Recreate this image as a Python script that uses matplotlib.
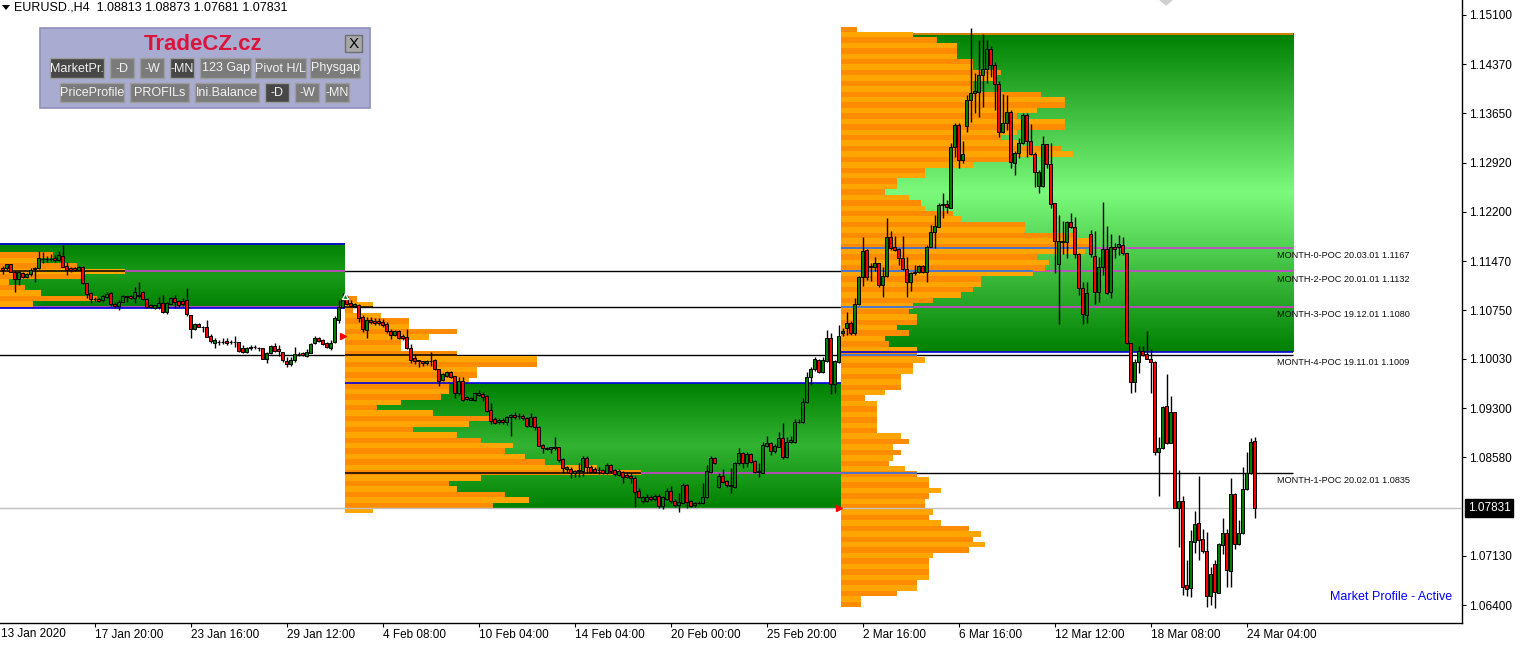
import matplotlib
matplotlib.use('Agg')
import matplotlib.pyplot as plt
from matplotlib.patches import Rectangle, Polygon
import numpy as np

plt.rcParams['font.family'] = ['Liberation Sans', 'DejaVu Sans']

# ---------------------------------------------------------------------------
# - data: EURUSD H4 candles (bar index 0 = first visible bar)
opens = [
    1.1137, 1.1137, 1.1143, 1.1131, 1.1121, 1.1130, 1.1124, 1.1128, 1.1135, 1.1137,
    1.1150, 1.1150, 1.1150, 1.1152, 1.1149, 1.1155, 1.1140, 1.1137, 1.1137, 1.1134,
    1.1138, 1.1115, 1.1100, 1.1091, 1.1091, 1.1090, 1.1094, 1.1100, 1.1084, 1.1081,
    1.1087, 1.1094, 1.1096, 1.1093, 1.1096, 1.1102, 1.1091, 1.1082, 1.1078, 1.1079,
    1.1085, 1.1072, 1.1084, 1.1093, 1.1088, 1.1088, 1.1090, 1.1068, 1.1047, 1.1054,
    1.1050, 1.1050, 1.1037, 1.1026, 1.1028, 1.1028, 1.1029, 1.1028, 1.1028, 1.1028,
    1.1019, 1.1013, 1.1020, 1.1020, 1.1019, 1.1019, 1.1003, 1.1012, 1.1022, 1.1018,
    1.1013, 1.1000, 1.0995, 1.1001, 1.1010, 1.1012, 1.1007, 1.1012, 1.1026, 1.1034,
    1.1031, 1.1026, 1.1019, 1.1028, 1.1060, 1.1079, 1.1094, 1.1085, 1.1081, 1.1082,
    1.1065, 1.1046, 1.1060, 1.1059, 1.1059, 1.1057, 1.1054, 1.1044, 1.1038, 1.1044,
    1.1037, 1.1035, 1.1019, 1.1004, 1.1001, 1.1000, 1.0997, 1.1000, 1.1001, 1.0988,
    1.0972, 1.0978, 1.0984, 1.0978, 1.0953, 1.0970, 1.0947, 1.0942, 1.0942, 1.0950,
    1.0951, 1.0948, 1.0928, 1.0914, 1.0910, 1.0913, 1.0910, 1.0917, 1.0920, 1.0919,
    1.0919, 1.0916, 1.0904, 1.0917, 1.0903, 1.0876, 1.0872, 1.0870, 1.0873, 1.0873,
    1.0855, 1.0841, 1.0841, 1.0835, 1.0838, 1.0838, 1.0857, 1.0844, 1.0841, 1.0839,
    1.0839, 1.0835, 1.0846, 1.0839, 1.0832, 1.0836, 1.0832, 1.0830, 1.0827, 1.0808,
    1.0793, 1.0793, 1.0799, 1.0796, 1.0801, 1.0786, 1.0796, 1.0808, 1.0793, 1.0787,
    1.0790, 1.0817, 1.0793, 1.0787, 1.0790, 1.0790, 1.0799, 1.0836, 1.0857, 1.0814,
    1.0830, 1.0823, 1.0817, 1.0814, 1.0849, 1.0864, 1.0849, 1.0863, 1.0852, 1.0836,
    1.0835, 1.0874, 1.0879, 1.0867, 1.0873, 1.0886, 1.0858, 1.0880, 1.0880, 1.0910,
    1.0910, 1.0939, 1.0976, 1.0988, 1.1001, 1.0984, 1.1000, 1.1034, 1.0966, 1.0998,
    1.1041, 1.1048, 1.1056, 1.1041, 1.1084, 1.1124, 1.1163, 1.1138, 1.1138, 1.1144,
    1.1112, 1.1125, 1.1183, 1.1168, 1.1165, 1.1152, 1.1135, 1.1116, 1.1131, 1.1131,
    1.1140, 1.1131, 1.1168, 1.1190, 1.1197, 1.1230, 1.1231, 1.1225, 1.1315, 1.1348,
    1.1296, 1.1346, 1.1385, 1.1395, 1.1396, 1.1422, 1.1430, 1.1460, 1.1436, 1.1408,
    1.1337, 1.1351, 1.1367, 1.1292, 1.1306, 1.1321, 1.1363, 1.1324, 1.1305, 1.1258,
    1.1258, 1.1320, 1.1290, 1.1233, 1.1143, 1.1177, 1.1175, 1.1205, 1.1197, 1.1158,
    1.1107, 1.1068, 1.1187, 1.1155, 1.1102, 1.1138, 1.1165, 1.1102, 1.1168, 1.1168,
    1.1171, 1.1159, 1.1026, 1.0969, 1.0998, 1.1015, 1.1010, 1.1003, 1.0998, 1.0866,
    1.0872, 1.0933, 1.0879, 1.0925, 1.0783, 1.0793, 1.0670, 1.0665, 1.0733, 1.0761,
    1.0737, 1.0720, 1.0653, 1.0701, 1.0658, 1.0729, 1.0746, 1.0690, 1.0804, 1.0730,
    1.0746, 1.0811, 1.0835, 1.08813]
highs = [
    1.1140, 1.1143, 1.1143, 1.1133, 1.1133, 1.1131, 1.1130, 1.1137, 1.1138, 1.1162,
    1.1161, 1.1155, 1.1158, 1.1156, 1.1162, 1.1171, 1.1146, 1.1138, 1.1138, 1.1140,
    1.1140, 1.1115, 1.1102, 1.1094, 1.1093, 1.1097, 1.1102, 1.1102, 1.1087, 1.1090,
    1.1097, 1.1096, 1.1097, 1.1109, 1.1116, 1.1103, 1.1093, 1.1084, 1.1082, 1.1094,
    1.1097, 1.1087, 1.1094, 1.1097, 1.1090, 1.1093, 1.1107, 1.1068, 1.1056, 1.1056,
    1.1051, 1.1060, 1.1040, 1.1034, 1.1031, 1.1034, 1.1034, 1.1031, 1.1037, 1.1028,
    1.1023, 1.1020, 1.1023, 1.1023, 1.1020, 1.1019, 1.1013, 1.1023, 1.1026, 1.1023,
    1.1013, 1.1006, 1.1006, 1.1020, 1.1013, 1.1013, 1.1018, 1.1026, 1.1037, 1.1035,
    1.1032, 1.1028, 1.1031, 1.1066, 1.1090, 1.1100, 1.1097, 1.1090, 1.1085, 1.1084,
    1.1068, 1.1065, 1.1065, 1.1063, 1.1063, 1.1062, 1.1057, 1.1047, 1.1046, 1.1046,
    1.1040, 1.1047, 1.1025, 1.1009, 1.1001, 1.1000, 1.1001, 1.1013, 1.1003, 1.0988,
    1.0982, 1.0985, 1.0985, 1.0978, 1.0976, 1.0976, 1.0948, 1.0947, 1.0954, 1.0957,
    1.0954, 1.0950, 1.0938, 1.0917, 1.0916, 1.0916, 1.0919, 1.0922, 1.0925, 1.0923,
    1.0922, 1.0917, 1.0923, 1.0919, 1.0904, 1.0877, 1.0873, 1.0873, 1.0888, 1.0873,
    1.0857, 1.0845, 1.0844, 1.0839, 1.0849, 1.0860, 1.0860, 1.0846, 1.0844, 1.0844,
    1.0841, 1.0849, 1.0848, 1.0841, 1.0841, 1.0838, 1.0836, 1.0835, 1.0830, 1.0813,
    1.0801, 1.0804, 1.0802, 1.0804, 1.0804, 1.0801, 1.0813, 1.0815, 1.0796, 1.0805,
    1.0820, 1.0818, 1.0795, 1.0792, 1.0793, 1.0820, 1.0846, 1.0860, 1.0858, 1.0835,
    1.0841, 1.0824, 1.0842, 1.0851, 1.0872, 1.0866, 1.0866, 1.0864, 1.0854, 1.0849,
    1.0880, 1.0889, 1.0880, 1.0877, 1.0895, 1.0908, 1.0888, 1.0889, 1.0914, 1.0914,
    1.0945, 1.0984, 1.0991, 1.1006, 1.1003, 1.1006, 1.1046, 1.1041, 1.1001, 1.1053,
    1.1048, 1.1072, 1.1059, 1.1093, 1.1125, 1.1183, 1.1165, 1.1144, 1.1153, 1.1144,
    1.1138, 1.1211, 1.1192, 1.1184, 1.1166, 1.1184, 1.1153, 1.1131, 1.1141, 1.1141,
    1.1141, 1.1171, 1.1200, 1.1215, 1.1233, 1.1248, 1.1237, 1.1321, 1.1351, 1.1351,
    1.1324, 1.1392, 1.1491, 1.1424, 1.1473, 1.1482, 1.1473, 1.1464, 1.1441, 1.1413,
    1.1394, 1.1392, 1.1370, 1.1309, 1.1329, 1.1366, 1.1366, 1.1349, 1.1308, 1.1281,
    1.1332, 1.1320, 1.1321, 1.1233, 1.1215, 1.1206, 1.1206, 1.1218, 1.1212, 1.1159,
    1.1116, 1.1116, 1.1193, 1.1192, 1.1153, 1.1234, 1.1199, 1.1187, 1.1174, 1.1186,
    1.1183, 1.1159, 1.1026, 1.1003, 1.1022, 1.1022, 1.1044, 1.1018, 1.1000, 1.0888,
    1.0933, 1.0981, 1.0948, 1.0925, 1.0839, 1.0801, 1.0706, 1.0751, 1.0779, 1.0830,
    1.0752, 1.0748, 1.0696, 1.0706, 1.0731, 1.0768, 1.0752, 1.0827, 1.0805, 1.0765,
    1.0844, 1.0866, 1.0886, 1.08873]
lows = [
    1.1128, 1.1134, 1.1131, 1.1102, 1.1112, 1.1122, 1.1122, 1.1125, 1.1116, 1.1135,
    1.1144, 1.1146, 1.1147, 1.1146, 1.1147, 1.1138, 1.1127, 1.1131, 1.1133, 1.1134,
    1.1113, 1.1093, 1.1085, 1.1088, 1.1087, 1.1087, 1.1093, 1.1081, 1.1078, 1.1075,
    1.1087, 1.1087, 1.1091, 1.1085, 1.1093, 1.1090, 1.1078, 1.1078, 1.1076, 1.1076,
    1.1071, 1.1069, 1.1084, 1.1078, 1.1079, 1.1081, 1.1066, 1.1034, 1.1046, 1.1050,
    1.1043, 1.1035, 1.1026, 1.1019, 1.1023, 1.1025, 1.1023, 1.1025, 1.1020, 1.1013,
    1.1012, 1.1012, 1.1016, 1.1018, 1.1015, 1.1003, 1.0997, 1.1010, 1.1013, 1.1007,
    1.0998, 1.0991, 1.0992, 1.0998, 1.1007, 1.1007, 1.1006, 1.1012, 1.1025, 1.1028,
    1.1023, 1.1019, 1.1016, 1.1026, 1.1056, 1.1078, 1.1082, 1.1079, 1.1079, 1.1057,
    1.1043, 1.1034, 1.1054, 1.1053, 1.1053, 1.1050, 1.1041, 1.1032, 1.1037, 1.1032,
    1.1031, 1.1018, 1.0997, 1.0995, 1.0991, 1.0992, 1.0994, 1.0992, 1.0987, 1.0963,
    1.0970, 1.0976, 1.0975, 1.0945, 1.0950, 1.0941, 1.0942, 1.0942, 1.0941, 1.0948,
    1.0941, 1.0925, 1.0907, 1.0907, 1.0907, 1.0907, 1.0905, 1.0889, 1.0914, 1.0914,
    1.0913, 1.0903, 1.0903, 1.0898, 1.0874, 1.0864, 1.0869, 1.0864, 1.0869, 1.0851,
    1.0835, 1.0836, 1.0827, 1.0829, 1.0829, 1.0830, 1.0835, 1.0835, 1.0835, 1.0833,
    1.0833, 1.0833, 1.0835, 1.0830, 1.0830, 1.0820, 1.0827, 1.0820, 1.0785, 1.0798,
    1.0790, 1.0792, 1.0793, 1.0793, 1.0783, 1.0782, 1.0795, 1.0790, 1.0785, 1.0777,
    1.0790, 1.0783, 1.0785, 1.0785, 1.0789, 1.0789, 1.0798, 1.0835, 1.0848, 1.0812,
    1.0820, 1.0814, 1.0805, 1.0812, 1.0846, 1.0842, 1.0844, 1.0849, 1.0835, 1.0829,
    1.0835, 1.0873, 1.0861, 1.0864, 1.0873, 1.0855, 1.0857, 1.0879, 1.0879, 1.0908,
    1.0908, 1.0938, 1.0964, 1.0985, 1.0982, 1.0982, 1.0998, 1.0951, 1.0953, 1.0997,
    1.1037, 1.1038, 1.1038, 1.1038, 1.1082, 1.1110, 1.1119, 1.1118, 1.1133, 1.1109,
    1.1094, 1.1124, 1.1163, 1.1162, 1.1141, 1.1134, 1.1094, 1.1103, 1.1127, 1.1130,
    1.1130, 1.1116, 1.1168, 1.1166, 1.1197, 1.1211, 1.1218, 1.1225, 1.1301, 1.1284,
    1.1292, 1.1337, 1.1352, 1.1366, 1.1360, 1.1374, 1.1410, 1.1419, 1.1370, 1.1330,
    1.1336, 1.1340, 1.1284, 1.1274, 1.1299, 1.1320, 1.1301, 1.1304, 1.1256, 1.1248,
    1.1256, 1.1284, 1.1225, 1.1130, 1.1054, 1.1158, 1.1152, 1.1196, 1.1152, 1.1097,
    1.1054, 1.1056, 1.1153, 1.1084, 1.1087, 1.1127, 1.1099, 1.1093, 1.1152, 1.1156,
    1.1156, 1.1025, 1.0953, 1.0954, 1.0982, 1.1007, 1.1003, 1.0953, 1.0861, 1.0801,
    1.0870, 1.0877, 1.0879, 1.0783, 1.0726, 1.0655, 1.0653, 1.0652, 1.0717, 1.0706,
    1.0717, 1.0637, 1.0640, 1.0636, 1.0658, 1.0715, 1.0667, 1.0667, 1.0723, 1.0729,
    1.0745, 1.0810, 1.0833, 1.07681]
closes = [
    1.1134, 1.1143, 1.1131, 1.1121, 1.1131, 1.1124, 1.1128, 1.1134, 1.1137, 1.1152,
    1.1150, 1.1150, 1.1150, 1.1149, 1.1156, 1.1138, 1.1134, 1.1134, 1.1134, 1.1138,
    1.1115, 1.1099, 1.1091, 1.1091, 1.1088, 1.1096, 1.1099, 1.1084, 1.1081, 1.1087,
    1.1096, 1.1096, 1.1093, 1.1102, 1.1096, 1.1091, 1.1079, 1.1079, 1.1082, 1.1085,
    1.1072, 1.1085, 1.1093, 1.1087, 1.1082, 1.1084, 1.1069, 1.1047, 1.1054, 1.1050,
    1.1050, 1.1035, 1.1029, 1.1031, 1.1028, 1.1028, 1.1026, 1.1028, 1.1028, 1.1015,
    1.1013, 1.1019, 1.1019, 1.1020, 1.1019, 1.1003, 1.1012, 1.1022, 1.1015, 1.1015,
    1.1001, 1.0995, 1.1001, 1.1010, 1.1010, 1.1009, 1.1013, 1.1025, 1.1034, 1.1029,
    1.1025, 1.1020, 1.1026, 1.1063, 1.1079, 1.1090, 1.1084, 1.1081, 1.1084, 1.1063,
    1.1047, 1.1060, 1.1057, 1.1056, 1.1056, 1.1053, 1.1044, 1.1038, 1.1044, 1.1034,
    1.1034, 1.1019, 1.1001, 1.1000, 1.1000, 1.0997, 1.1000, 1.1000, 1.0988, 1.0970,
    1.0981, 1.0984, 1.0976, 1.0953, 1.0970, 1.0942, 1.0944, 1.0945, 1.0953, 1.0953,
    1.0947, 1.0926, 1.0911, 1.0908, 1.0913, 1.0910, 1.0917, 1.0920, 1.0917, 1.0919,
    1.0916, 1.0904, 1.0917, 1.0903, 1.0874, 1.0872, 1.0870, 1.0873, 1.0872, 1.0854,
    1.0842, 1.0844, 1.0835, 1.0838, 1.0838, 1.0857, 1.0844, 1.0836, 1.0836, 1.0839,
    1.0835, 1.0846, 1.0838, 1.0833, 1.0838, 1.0829, 1.0829, 1.0827, 1.0807, 1.0799,
    1.0799, 1.0799, 1.0796, 1.0801, 1.0786, 1.0799, 1.0808, 1.0793, 1.0787, 1.0792,
    1.0817, 1.0792, 1.0786, 1.0790, 1.0790, 1.0799, 1.0838, 1.0857, 1.0849, 1.0830,
    1.0821, 1.0817, 1.0815, 1.0849, 1.0864, 1.0849, 1.0863, 1.0851, 1.0836, 1.0838,
    1.0876, 1.0879, 1.0867, 1.0874, 1.0886, 1.0858, 1.0880, 1.0883, 1.0910, 1.0910,
    1.0939, 1.0976, 1.0988, 1.1003, 1.0984, 1.1001, 1.1034, 1.0966, 1.1000, 1.1037,
    1.1044, 1.1056, 1.1041, 1.1084, 1.1124, 1.1162, 1.1124, 1.1140, 1.1144, 1.1112,
    1.1125, 1.1183, 1.1166, 1.1163, 1.1152, 1.1135, 1.1116, 1.1130, 1.1130, 1.1140,
    1.1131, 1.1168, 1.1190, 1.1199, 1.1230, 1.1231, 1.1227, 1.1315, 1.1348, 1.1296,
    1.1305, 1.1385, 1.1395, 1.1398, 1.1422, 1.1430, 1.1460, 1.1436, 1.1408, 1.1337,
    1.1351, 1.1367, 1.1293, 1.1306, 1.1321, 1.1363, 1.1324, 1.1305, 1.1278, 1.1278,
    1.1320, 1.1290, 1.1231, 1.1177, 1.1177, 1.1175, 1.1205, 1.1197, 1.1158, 1.1107,
    1.1069, 1.1100, 1.1158, 1.1102, 1.1138, 1.1165, 1.1100, 1.1168, 1.1165, 1.1172,
    1.1159, 1.1026, 1.0969, 1.0998, 1.1015, 1.1009, 1.1003, 1.0998, 1.0866, 1.0872,
    1.0932, 1.0879, 1.0925, 1.0783, 1.0793, 1.0667, 1.0664, 1.0734, 1.0760, 1.0736,
    1.0720, 1.0653, 1.0686, 1.0659, 1.0730, 1.0746, 1.0692, 1.0804, 1.0730, 1.0746,
    1.0811, 1.0835, 1.0880, 1.07831]

# - time axis
tick_bars = [23, 47, 71, 95, 119, 143, 167, 191, 215, 239, 263, 287, 311]
tick_labels = ['17 Jan 20:00', '23 Jan 16:00', '29 Jan 12:00', '4 Feb 08:00',
               '10 Feb 04:00', '14 Feb 04:00', '20 Feb 00:00', '25 Feb 20:00',
               '2 Mar 16:00', '6 Mar 16:00', '12 Mar 12:00', '18 Mar 08:00',
               '24 Mar 04:00']
price_ticks = [1.15100, 1.14370, 1.13650, 1.12920, 1.12200, 1.11470, 1.10750,
               1.10030, 1.09300, 1.08580, 1.07130, 1.06400]
last_price = 1.07831

# - monthly market profiles (counts per 0.0008 price bin, listed top -> bottom)
bin_size = 0.0008
jan_start, jan_top = -43.5, 1.1160
jan_counts = [56, 52, 62, 74, 64, 45, 49, 53, 67, 51]
feb_start, feb_top = 85.5, 1.1095
feb_counts = [3, 7, 2, 9, 16, 16, 28, 21, 14, 14, 28, 48, 48, 33, 33, 31, 26, 26, 24, 14,
              8, 22, 36, 31, 17, 28, 34, 42, 40, 45, 50, 63, 74, 34, 26, 28, 40, 46, 37, 7]
mar_start, mar_top = 209.5, 1.1493
mar_counts = [4, 18, 24, 29, 29, 29, 33, 33, 40, 39, 33, 33, 50, 56, 56, 49, 44, 56, 56, 44,
              40, 44, 55, 58, 44, 33, 21, 21, 14, 14, 11, 17, 20, 21, 28, 30, 46, 46, 58, 62,
              62, 61, 49, 52, 51, 48, 35, 35, 33, 30, 23, 18, 17, 19, 19, 14, 17, 11, 12, 19,
              19, 21, 18, 18, 15, 15, 15, 11, 6, 9, 9, 9, 9, 9, 9, 15, 17, 13, 15, 13,
              12, 16, 19, 22, 22, 25, 22, 21, 21, 23, 22, 25, 32, 35, 33, 36, 32, 23, 22, 22,
              22, 22, 19, 19, 14, 5, 5]

# - value area boxes (from bar, to bar, low, high)
jan_box = (-43.5, 85.5, 1.1078, 1.1173)
feb_box = (85.5, 209.5, 1.0783, 1.0967)
mar_box = (209.5, 322.6, 1.1013, 1.1482)

# - point of control lines
poc_labels = ['MONTH-0-POC 20.03.01 1.1167', 'MONTH-2-POC 20.01.01 1.1132',
              'MONTH-3-POC 19.12.01 1.1080', 'MONTH-4-POC 19.11.01 1.1009',
              'MONTH-1-POC 20.02.01 1.0835']
poc_prices = [1.1167, 1.1132, 1.1080, 1.1009, 1.0835]
poc_from = [209.5, -43.5, -43.5, -43.5, 85.5]
line_end = 322.6

# ---------------------------------------------------------------------------
# - figure
W, H = 1520, 645
fig = plt.figure(figsize=(W / 100, H / 100), dpi=100)
fig.patch.set_facecolor('white')
ax = fig.add_axes([0, 22 / H, 1462 / W, 623 / H])
ax.set_facecolor('white')

x_min, x_max = -0.675, 364.825
y_min, y_max = 1.06135, 1.15321


def gradient_box(box, center):
    x0, x1, p0, p1 = box
    t = np.linspace(-1, 1, 300)
    w = 1 - np.abs(t)
    dark = np.array([0, 128, 0])
    cols = dark + (np.array(center) - dark) * w[:, None]
    ax.imshow(cols[:, None, :] / 255, extent=(x0, x1, p0, p1), aspect='auto',
              origin='upper', interpolation='bilinear', zorder=1)


gradient_box(jan_box, (26, 156, 26))
gradient_box(feb_box, (50, 180, 50))
gradient_box(mar_box, (124, 250, 124))

profiles = [(jan_start, jan_top, jan_counts, 'black'),
            (feb_start, feb_top, feb_counts, 'black'),
            (mar_start, mar_top, mar_counts, '#1E6EFF')]

for start, top, counts, _ in profiles:
    counts = np.array(counts)
    bottoms = top - bin_size * (np.arange(len(counts)) + 1)
    colors = ['#FF8C00' if k % 2 == 0 else '#FFA500' for k in range(len(counts))]
    ax.barh(bottoms, counts, height=bin_size, left=start, align='edge',
            color=colors, linewidth=0, zorder=2)

# - POC lines: black on white, pink over the green boxes, other over the profiles
for p, start in zip(poc_prices, poc_from):
    ax.hlines(p, start, line_end, color='black', lw=1, zorder=0.8)
    for box in (jan_box, feb_box, mar_box):
        if box[2] <= p <= box[3]:
            a, b = max(box[0], start), min(box[1], line_end)
            if b > a:
                ax.hlines(p, a, b, color='#D040D0', lw=1.2, zorder=1.6)
    for pstart, top, counts, col in profiles:
        k = int((top - p) // bin_size)
        if 0 <= k < len(counts) and pstart >= start - 1:
            ax.hlines(p, pstart, pstart + counts[k], color=col, lw=1.1, zorder=2.6)

for lbl, p in zip(poc_labels, poc_prices):
    ax.annotate(lbl, xy=(318.6, p), xytext=(0, -2.5), textcoords='offset points',
                fontsize=6.6, color='#101010', va='top', ha='left', zorder=6)

# - box borders
ax.hlines([jan_box[2], jan_box[3]], jan_box[0], jan_box[1], color='#0000E0', lw=1.2, zorder=2.7)
ax.hlines(feb_box[3], feb_box[0], feb_box[1], color='#0000E0', lw=1.2, zorder=2.7)
ax.hlines(mar_box[2], mar_box[0], mar_box[1], color='#0000E0', lw=1.2, zorder=2.7)
ax.hlines(mar_box[3], mar_box[0], mar_box[1], color='#FF8000', lw=1.2, zorder=1.7)

# - current price line
ax.axhline(last_price, color='#C0C0C0', lw=1, zorder=3)

# - candles
o = np.array(opens)
h = np.array(highs)
l = np.array(lows)
c = np.array(closes)
n = min(len(o), len(h), len(l), len(c))
o, h, l, c = o[:n], h[:n], l[:n], c[:n]
x = np.arange(n)
body_col = np.where(c > o, '#008000', np.where(c < o, '#FF0000', 'black'))
ax.vlines(x, l, h, color='black', lw=1.0, zorder=4.5)
ax.bar(x, np.maximum(np.abs(c - o), 0.00004), bottom=np.minimum(o, c), width=0.85,
       color=body_col, edgecolor='black', linewidth=0.7, zorder=5)

# - trade arrows
ax.plot([85.1, 209.0], [1.1037, 1.0783], ls='none', marker='>', ms=5, color='red', zorder=6)
ax.plot([85.6], [1.1096], ls='none', marker='^', ms=5, color='#008000',
        markeredgecolor='white', zorder=6)

# - axes cosmetics
ax.set_xlim(x_min, x_max)
ax.set_ylim(y_min, y_max)
for s in ['left', 'top']:
    ax.spines[s].set_visible(False)
ax.spines['right'].set_linewidth(1)
ax.spines['bottom'].set_linewidth(1)

ax.yaxis.tick_right()
ax.set_yticks(price_ticks)
ax.set_yticklabels(['%.5f' % v for v in price_ticks])
ax.tick_params(axis='y', direction='out', length=3, pad=2, labelsize=8.5, width=0.8)

ax.set_xticks(tick_bars)
ax.set_xticklabels(tick_labels)
ax.tick_params(axis='x', direction='out', length=3, pad=1.5, labelsize=8.5, width=0.8)
for t in ax.get_xticklabels():
    t.set_ha('left')

fig.text(1 / W, 1 - 634 / H, '13 Jan 2020', fontsize=8.5, va='center', ha='left')

ax.annotate('%.5f' % last_price, xy=(1, last_price), xycoords=('axes fraction', 'data'),
            xytext=(4, 0), textcoords='offset points', va='center', ha='left',
            fontsize=8.5, color='white', annotation_clip=False,
            bbox=dict(boxstyle='square,pad=0.25', fc='black', ec='black'))

ax.text(0.9935, 0.0425, 'Market Profile - Active', transform=ax.transAxes,
        fontsize=9, color='#0000FF', ha='right', va='center')

# ---------------------------------------------------------------------------
# - header and the control panel, in figure pixels


def px_rect(x0, y0, x1, y1, **kw):
    fig.add_artist(Rectangle((x0 / W, 1 - y1 / H), (x1 - x0) / W, (y1 - y0) / H,
                             transform=fig.transFigure, **kw))


def px_text(xp, yp, s, **kw):
    fig.text(xp / W, 1 - yp / H, s, **kw)


fig.add_artist(Polygon([(2 / W, 1 - 5 / H), (10 / W, 1 - 5 / H), (6 / W, 1 - 10 / H)],
                       closed=True, transform=fig.transFigure, color='black', lw=0))
px_text(14, 8, 'EURUSD.,H4  1.08813 1.08873 1.07681 1.07831', fontsize=9, va='center')
fig.add_artist(Polygon([(1160 / W, 1.0), (1172 / W, 1.0), (1166 / W, 1 - 5 / H)],
                       closed=True, transform=fig.transFigure, color='#D0D0D0'))

px_rect(40, 28, 370, 108, facecolor='#A9ACD0', edgecolor='#8E91BA', lw=1.2, zorder=10)
px_text(203, 44, 'TradeCZ.cz', fontsize=16, fontweight='bold', color='#DC143C',
        ha='center', va='center', zorder=11)
px_rect(345, 35, 362, 52, facecolor='#A8A8A8', edgecolor='#6E6E6E', lw=1, zorder=11)
px_text(353.5, 43.5, 'X', fontsize=11, color='black', ha='center', va='center', zorder=12)

buttons = [('MarketPr.', 50, 104, 58, 78, True), ('-D', 110, 134, 58, 78, False),
           ('-W', 140, 164, 58, 78, False), ('-MN', 170, 194, 58, 78, True),
           ('123 Gap', 200, 251, 58, 78, False), ('Pivot H/L', 255, 306, 58, 78, False),
           ('Physgap', 310, 360, 58, 78, False),
           ('PriceProfile', 60, 124, 83, 102, False), ('PROFILs', 130, 189, 83, 102, False),
           ('Ini.Balance', 195, 259, 83, 102, False), ('-D', 265, 289, 83, 102, True),
           ('-W', 295, 319, 83, 102, False), ('-MN', 325, 349, 83, 102, False)]
for lbl, bx0, bx1, by0, by1, active in buttons:
    px_rect(bx0, by0, bx1, by1, facecolor='#474747' if active else '#7B7B7B',
            edgecolor='#9C9C9C', lw=1, zorder=11)
    px_text((bx0 + bx1) / 2, (by0 + by1) / 2 + 0.5, lbl, fontsize=9, color='#F2F2F2',
            ha='center', va='center', zorder=12, clip_on=False)

fig.savefig('out.png', dpi=100, facecolor='white')
